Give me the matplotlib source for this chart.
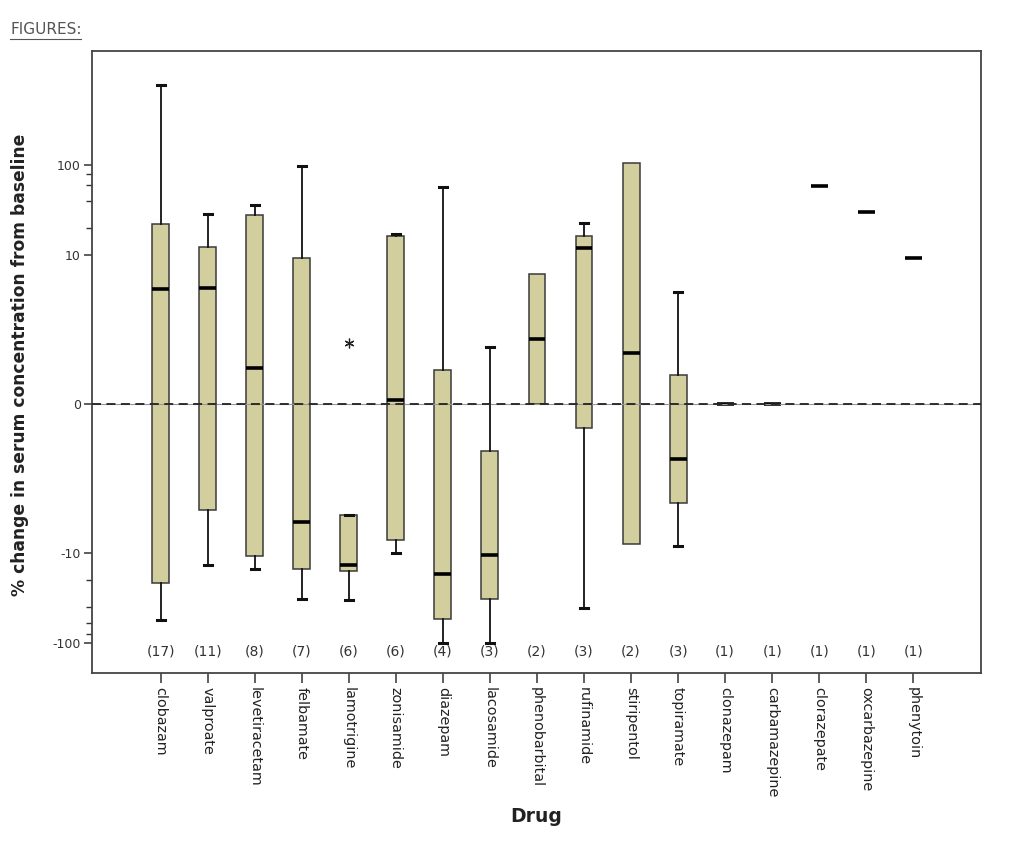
import matplotlib
matplotlib.use("Agg")
import matplotlib.pyplot as plt
from matplotlib.lines import Line2D
import matplotlib.transforms as mtransforms

drugs = ["clobazam", "valproate", "levetiracetam", "felbamate", "lamotrigine",
         "zonisamide", "diazepam", "lacosamide", "phenobarbital", "rufinamide",
         "stiripentol", "topiramate", "clonazepam", "carbamazepine",
         "clorazepate", "oxcarbazepine", "phenytoin"]
counts = [17, 11, 8, 7, 6, 6, 4, 3, 2, 3, 2, 3, 1, 1, 1, 1, 1]

whisker_low = [-56, -13.5, -15.1, -32.1, -33.5, -10.0, -100, -100, 0, -40.4, -9.37, -9.55,
               0, 0, 59.3, 30.3, 9.84]
q1 = [-21.5, -7.13, -10.9, -14.9, -16.0, -9.1, -54.5, -32.7, 0, -1.57, -9.37, -6.64,
      0, 0, 59.3, 30.3, 9.84]
median = [7.75, 7.78, 2.44, -7.92, -13.4, 0.27, -17.1, -10.5, 4.37, 12.05, 3.45, -3.70,
          0, 0, 59.3, 30.3, 9.84]
q3 = [22.3, 12.3, 27.8, 9.82, -7.44, 16.5, 2.29, -3.14, 8.74, 16.4, 106.9, 1.93,
      0, 0, 59.3, 30.3, 9.84]
whisker_high = [780, 28.8, 36.2, 98.3, -7.44, 17.2, 57, 3.85, 8.74, 22.7, 106.9, 7.55,
                0, 0, 59.3, 30.3, 9.84]
outliers = [[], [], [], [], [4.08], [], [], [], [], [], [], [], [], [], [], [], []]

ytick_vals = [-100, -10, 0, 10, 100]
ytick_labels = ["-100", "-10", "0", "10", "100"]
yminor_vals = [-80, -60, -40, -20, 20, 40, 60, 80]

fig = plt.figure(figsize=(10.30, 8.51), dpi=100)
ax = fig.add_axes([0.0893, 0.2088, 0.8636, 0.7313])

ax.set_yscale("symlog", linthresh=10, linscale=1.49)

box_color = "#D3CE9E"
edge = "#3a3a3a"

stats_whisk = []
pos_whisk = []
stats_plain = []
pos_plain = []
for i, d in enumerate(drugs):
    s = dict(label=d, whislo=whisker_low[i], q1=q1[i], med=median[i], q3=q3[i],
             whishi=whisker_high[i], fliers=outliers[i])
    if counts[i] >= 3:
        stats_whisk.append(s)
        pos_whisk.append(i)
    else:
        stats_plain.append(s)
        pos_plain.append(i)

common = dict(widths=0.36, patch_artist=True, manage_ticks=False,
              boxprops=dict(facecolor=box_color, edgecolor=edge, linewidth=1.1),
              medianprops=dict(color="black", linewidth=2.6, solid_capstyle="butt"),
              whiskerprops=dict(color="#111111", linewidth=1.3),
              capprops=dict(color="#111111", linewidth=2.2))

ax.bxp(stats_whisk, positions=pos_whisk, showcaps=True, capwidths=0.17,
       flierprops=dict(marker=(6, 2, 0), markersize=7, markerfacecolor="#222222",
                       markeredgecolor="#222222", markeredgewidth=0.9, linestyle="none"),
       **common)
ax.bxp(stats_plain, positions=pos_plain, showcaps=False, showfliers=False, **common)

ax.axhline(0, color="#222222", linewidth=1.3, linestyle=(0, (5, 3)), zorder=3)
ax.axhline(0, color="#999999", linewidth=0.8, zorder=2.9)

ax.set_xlim(-1.46, 17.45)
ax.set_ylim(-217, 1860)

ax.set_xticks(range(len(drugs)))
ax.set_xticklabels(drugs, rotation=-90, fontsize=10.4, color="#222222", va="top", ha="center")
ax.set_yticks(ytick_vals)
ax.set_yticklabels(ytick_labels, fontsize=9, color="#333333")
ax.set_yticks(yminor_vals, minor=True)
ax.tick_params(axis="y", which="major", length=6, width=1.1, color="#333333", pad=2)
ax.tick_params(axis="y", which="minor", length=4, width=1.0, color="#333333")
ax.tick_params(axis="x", which="major", length=7, width=1.1, color="#333333", pad=3)
ax.tick_params(axis="x", which="minor", length=0)

for sp in ax.spines.values():
    sp.set_color("#444444")
    sp.set_linewidth(1.3)

trans = mtransforms.blended_transform_factory(ax.transData, ax.transAxes)
for i, n in enumerate(counts):
    ax.text(i, 0.035, f"({n})", transform=trans, ha="center", va="center",
            fontsize=10, color="#333333")

fig.text(20 / 1030, 0.571, "% change in serum concentration from baseline", rotation=90,
         ha="center", va="center", fontsize=12.3, fontweight="bold", color="#222222")
fig.text(0.521, 0.040, "Drug", ha="center", va="center", fontsize=13.5,
         fontweight="bold", color="#222222")

t = fig.text(10 / 1030, 1 - 30 / 851, "FIGURES:", ha="left", va="center",
             fontsize=11, color="#555555")
fig.canvas.draw()
bb = t.get_window_extent(renderer=fig.canvas.get_renderer())
bbf = bb.transformed(fig.transFigure.inverted())
fig.add_artist(Line2D([bbf.x0, bbf.x1], [bbf.y0 - 0.002, bbf.y0 - 0.002],
                      transform=fig.transFigure, color="#555555", linewidth=0.8))

fig.savefig("out.png", dpi=100)
